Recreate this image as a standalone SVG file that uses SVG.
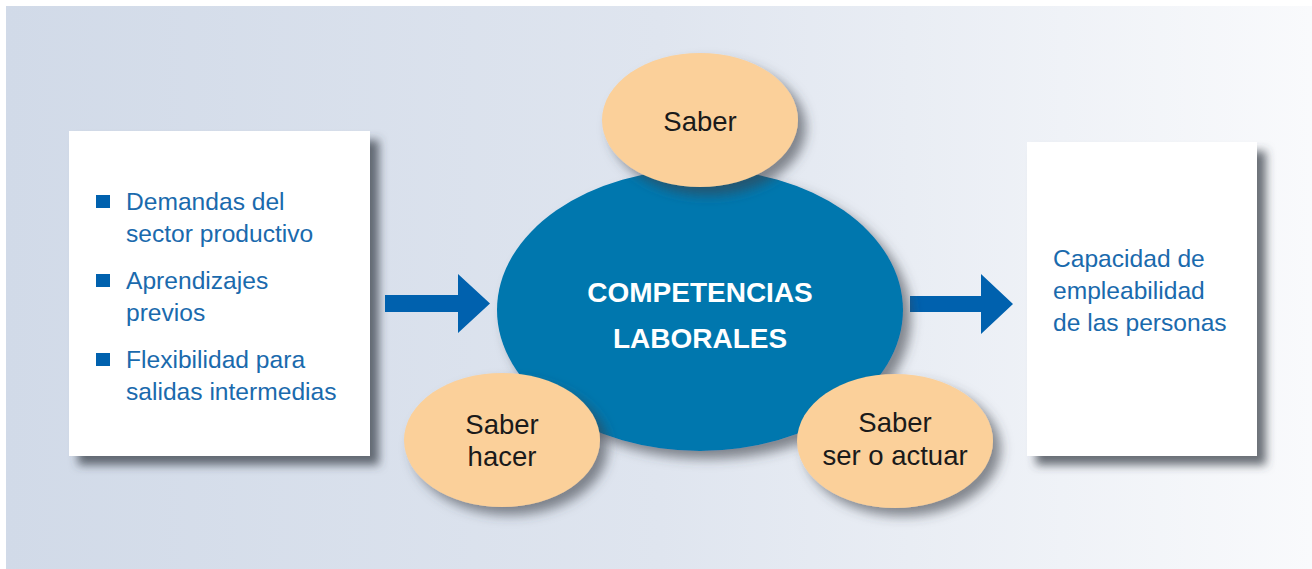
<svg xmlns="http://www.w3.org/2000/svg" width="1312" height="569" viewBox="0 0 1312 569">
<defs>
<linearGradient id="bg" x1="0" y1="0" x2="1" y2="0">
<stop offset="0" stop-color="#d1dae8"/>
<stop offset="0.5" stop-color="#dfe5ef"/>
<stop offset="1" stop-color="#f9fafc"/>
</linearGradient>
<filter id="sh" x="-20%" y="-20%" width="150%" height="150%">
<feDropShadow dx="9" dy="9" stdDeviation="5" flood-color="#3a3f48" flood-opacity="0.75"/>
</filter>
<filter id="sh2" x="-20%" y="-20%" width="150%" height="150%">
<feDropShadow dx="8" dy="8" stdDeviation="6" flood-color="#3a3f48" flood-opacity="0.6"/>
</filter>
</defs>
<style>
.box{fill:#ffffff;filter:url(#sh)}
.blue{font-family:"Liberation Sans",Arial,sans-serif;font-size:24.6px;fill:#1a6aad}
.dark{font-family:"Liberation Sans",Arial,sans-serif;font-size:27.5px;fill:#1a1a1a;text-anchor:middle}
.white{font-family:"Liberation Sans",Arial,sans-serif;font-size:28px;font-weight:bold;fill:#ffffff;text-anchor:middle}
.oval{fill:#fbd09a;filter:url(#sh2)}
.bullet{fill:#0061ae}
.arrow{fill:#0061ae}
</style>
<rect x="6" y="6" width="1306" height="563" fill="url(#bg)"/>

<g id="input-box">
<rect class="box" x="69" y="131" width="301" height="325"/>
<rect class="bullet" x="96" y="195" width="14" height="13"/>
<text class="blue" x="126" y="210">Demandas del</text>
<text class="blue" x="126" y="242">sector productivo</text>
<rect class="bullet" x="96" y="274" width="14" height="13"/>
<text class="blue" x="126" y="289">Aprendizajes</text>
<text class="blue" x="126" y="321">previos</text>
<rect class="bullet" x="96" y="353" width="14" height="13"/>
<text class="blue" x="126" y="368">Flexibilidad para</text>
<text class="blue" x="126" y="400">salidas intermedias</text>
</g>

<g id="output-box">
<rect class="box" x="1027" y="142" width="230" height="314"/>
<text class="blue" x="1053" y="267">Capacidad de</text>
<text class="blue" x="1053" y="299">empleabilidad</text>
<text class="blue" x="1053" y="331">de las personas</text>
</g>

<g id="connectors">
<polygon class="arrow" points="385,295 458,295 458,274 490,303.5 458,333 458,312 385,312"/>
<polygon class="arrow" points="910,296 981,296 981,274 1013,304 981,334 981,312 910,312"/>
</g>

<g id="competencias">
<ellipse cx="700" cy="310" rx="203" ry="141" fill="#0077ae" filter="url(#sh2)"/>
<text class="white" x="700" y="302">COMPETENCIAS</text>
<text class="white" x="700" y="348">LABORALES</text>
</g>

<g id="saber">
<ellipse class="oval" cx="700" cy="120" rx="98" ry="67"/>
<text class="dark" x="700" y="131">Saber</text>
</g>

<g id="saber-hacer">
<ellipse class="oval" cx="502" cy="440" rx="98" ry="67"/>
<text class="dark" x="502" y="434">Saber</text>
<text class="dark" x="502" y="466">hacer</text>
</g>

<g id="saber-ser">
<ellipse class="oval" cx="895" cy="441" rx="98" ry="67"/>
<text class="dark" x="895" y="432">Saber</text>
<text class="dark" x="895" y="465">ser o actuar</text>
</g>
</svg>
